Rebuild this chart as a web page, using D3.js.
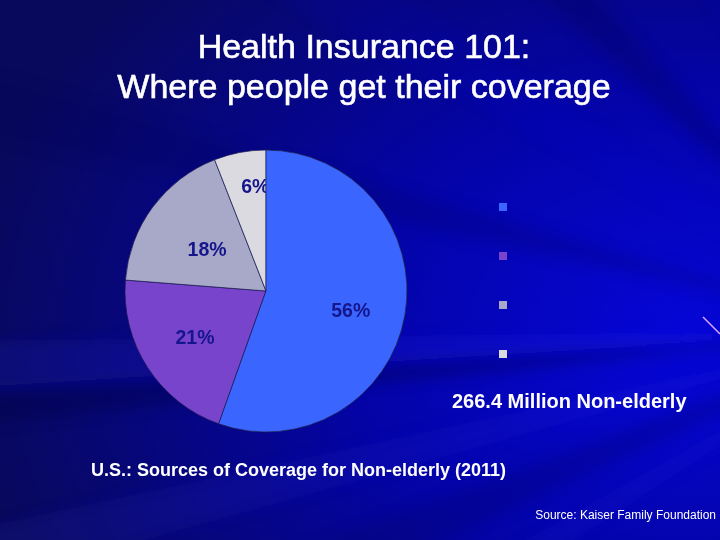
<!DOCTYPE html>
<html><head><meta charset="utf-8">
<script src="https://cdn.jsdelivr.net/npm/d3@7"></script>
<style>html,body{margin:0;padding:0;background:#06066a;}svg{display:block;}</style>
</head><body>
<script>
const categories = ["Employer", "Medicaid / Other Public", "Uninsured", "Individual"];
const values = [56, 21, 18, 6];
const labels = ["56%", "21%", "18%", "6%"];
const colors = ["#3a66ff", "#7944cc", "#a8a8c8", "#dadae0"];

const W = 720, H = 540;
const FONT = "Liberation Sans, Arial, sans-serif";
const svg = d3.select("body").append("svg").attr("width", W).attr("height", H);
const defs = svg.append("defs");

// background gradient
const bg = defs.append("radialGradient").attr("id", "bg")
  .attr("cx", "95%").attr("cy", "62%").attr("r", "100%");
bg.append("stop").attr("offset", "0%").attr("stop-color", "#0606d8");
bg.append("stop").attr("offset", "45%").attr("stop-color", "#0404a8");
bg.append("stop").attr("offset", "100%").attr("stop-color", "#08085c");
svg.append("rect").attr("width", W).attr("height", H).attr("fill", "url(#bg)");

// soft rays
const blur = defs.append("filter").attr("id", "blur").attr("x", "-20%").attr("y", "-20%").attr("width", "140%").attr("height", "140%");
blur.append("feGaussianBlur").attr("stdDeviation", 7);
const rays = svg.append("g").attr("filter", "url(#blur)");
const origin = [900, 330];
const rayDefs = [[-2.6, 0.05, "#2a2af0", 0.07], [-2.35, 0.04, "#000050", 0.25], [-2.05, 0.05, "#3030f0", 0.05],
  [-1.85, 0.03, "#000060", 0.2], [3.1, 0.03, "#3a3aff", 0.12], [3.06, 0.02, "#000045", 0.35], [2.9, 0.03, "#3030f0", 0.1],
  [2.75, 0.04, "#000050", 0.2], [2.6, 0.03, "#3a3aff", 0.08], [-2.9, 0.03, "#000055", 0.2]];
rayDefs.forEach(([a, w, c, o]) => {
  const L = 1300;
  const p = [origin,
    [origin[0] + L * Math.cos(a - w), origin[1] + L * Math.sin(a - w)],
    [origin[0] + L * Math.cos(a + w), origin[1] + L * Math.sin(a + w)]];
  rays.append("path").attr("d", d3.line()(p) + "Z").attr("fill", c).attr("opacity", o);
});
svg.append("line").attr("x1", 703).attr("y1", 317).attr("x2", 720).attr("y2", 334)
  .attr("stroke", "#e0a8ff").attr("stroke-width", 1.4);

// title
const title = svg.append("text").attr("text-anchor", "middle")
  .attr("font-family", FONT).attr("font-size", 34).attr("fill", "#ffffff")
  .attr("stroke", "#ffffff").attr("stroke-width", 0.6);
title.append("tspan").attr("x", 364).attr("y", 58).text("Health Insurance 101:");
title.append("tspan").attr("x", 364).attr("y", 98).text("Where people get their coverage");

// pie
const cx = 266, cy = 291, R = 141;
const pie = d3.pie().sort(null).value(d => d)(values);
const arc = d3.arc().innerRadius(0).outerRadius(R);
const g = svg.append("g").attr("transform", `translate(${cx},${cy})`);
const labelFactor = [0.61, 0.6, 0.52, 0.755];
const nudge = [[0, 4], [0, 0], [0, 2], [9, 0]];
const lab = (i) => {
  const d = pie[i];
  const a = (d.startAngle + d.endAngle) / 2;
  const r = R * labelFactor[i];
  return [r * Math.sin(a) + nudge[i][0], -r * Math.cos(a) + nudge[i][1]];
};
const labelText = (sel) => sel.attr("text-anchor", "middle").attr("dominant-baseline", "central")
  .attr("font-family", FONT).attr("font-weight", "bold")
  .attr("font-size", 19.5).attr("fill", "#15158c");
g.selectAll("path.slice").data(pie).join("path").attr("class", "slice")
  .attr("d", arc).attr("fill", (d, i) => colors[i])
  .attr("stroke", "#1a1a50").attr("stroke-width", 0.7);
g.selectAll("text.lbl").data(pie).join("text").attr("class", "lbl")
  .attr("x", (d, i) => lab(i)[0]).attr("y", (d, i) => lab(i)[1])
  .call(labelText).text((d, i) => labels[i]);
// the largest slice is drawn over the small label (6% is partly hidden as in the original)
g.append("path").attr("d", arc(pie[0])).attr("fill", colors[0]).attr("stroke", "#1a1a50").attr("stroke-width", 0.7);
g.append("text").attr("x", lab(0)[0]).attr("y", lab(0)[1]).call(labelText).text(labels[0]);

// legend (markers only; label text invisible against background as in the original)
const ly = d3.scalePoint().domain(categories).range([207, 354]);
const leg = svg.append("g");
leg.selectAll("rect").data(categories).join("rect")
  .attr("x", 499).attr("y", d => ly(d) - 4).attr("width", 8).attr("height", 8)
  .attr("fill", (d, i) => colors[i]);
leg.selectAll("text").data(categories).join("text")
  .attr("x", 514).attr("y", d => ly(d) + 5).attr("font-family", FONT)
  .attr("font-size", 14).attr("fill", "none").text(d => d);

const txt = (x, y, s, size, bold, anchor) => svg.append("text").attr("x", x).attr("y", y)
  .attr("text-anchor", anchor || "start")
  .attr("font-family", FONT).attr("font-weight", bold ? "bold" : "normal")
  .attr("font-size", size).attr("fill", "#ffffff").text(s);
txt(452, 408, "266.4 Million Non-elderly", 20, true);
txt(91, 476, "U.S.: Sources of Coverage for Non-elderly (2011)", 18, true);
txt(716, 519, "Source: Kaiser Family Foundation", 12, false, "end");
</script>
</body></html>
